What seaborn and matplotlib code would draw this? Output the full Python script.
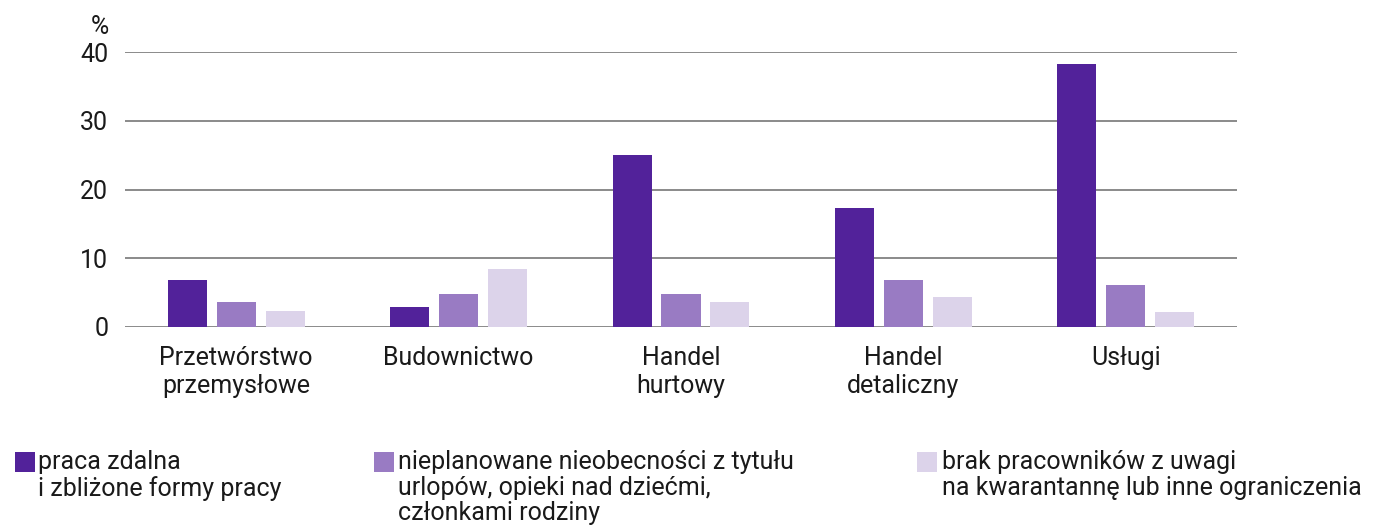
import matplotlib.pyplot as plt
import pandas as pd
import seaborn as sns
from matplotlib.patches import Rectangle


categories = ["Przetwórstwo\nprzemysłowe", "Budownictwo", "Handel\nhurtowy", "Handel\ndetaliczny", "Usługi"]
series = [
    "praca zdalna\ni zbliżone formy pracy",
    "nieplanowane nieobecności z tytułu\nurlopów, opieki nad dziećmi,\nczłonkami rodziny",
    "brak pracowników z uwagi\nna kwarantannę lub inne ograniczenia",
]
remote_work = [6.9, 2.9, 25.0, 17.3, 38.3]
absences = [3.6, 4.8, 4.8, 6.9, 6.1]
quarantine = [2.3, 8.4, 3.6, 4.4, 2.2]
colors = ["#52229a", "#997bc3", "#dcd3ea"]

df = pd.DataFrame({
    "category": categories * 3,
    "series": [series[0]] * 5 + [series[1]] * 5 + [series[2]] * 5,
    "value": remote_work + absences + quarantine,
})

sns.set_theme(style="white")
plt.rcParams["font.family"] = ["Roboto", "DejaVu Sans"]
text_color = "#1a1a1a"

fig = plt.figure(figsize=(13.79, 5.31), dpi=100)
ax = fig.add_axes([125 / 1379, 1 - 327 / 531, (1237 - 125) / 1379, (327 - 52) / 531])

sns.barplot(data=df, x="category", y="value", hue="series", palette=colors,
            width=0.66, gap=0.2, linewidth=0, saturation=1, legend=False, ax=ax)

ax.set_ylim(0, 40)
ax.set_xlim(-0.5, 4.5)
ax.set_yticks([0, 10, 20, 30, 40])
ax.yaxis.grid(True, color="#8a8a8a", linewidth=1.4)
ax.set_axisbelow(True)
for s in ax.spines.values():
    s.set_visible(False)
ax.tick_params(axis="both", length=0, labelsize=18, colors=text_color)
ax.tick_params(axis="x", pad=14)
ax.tick_params(axis="y", pad=12)
ax.set_xlabel("")
ax.set_ylabel("")

fig.text(100 / 1379, 1 - 27 / 531, "%", fontsize=18, color=text_color, ha="center", va="center")

# legend, laid out by hand like the original
legend_x = [(15, 38), (374, 398), (917, 942)]
for (sq_x, tx_x), label, color in zip(legend_x, series, colors):
    fig.patches.append(Rectangle((sq_x / 1379, 1 - 472 / 531), 20 / 1379, 20 / 531,
                                 transform=fig.transFigure, facecolor=color, edgecolor="none"))
    fig.text(tx_x / 1379, 1 - 450 / 531, label, fontsize=18, color=text_color,
             ha="left", va="top", linespacing=1.08)

fig.savefig("out.png", dpi=100)
